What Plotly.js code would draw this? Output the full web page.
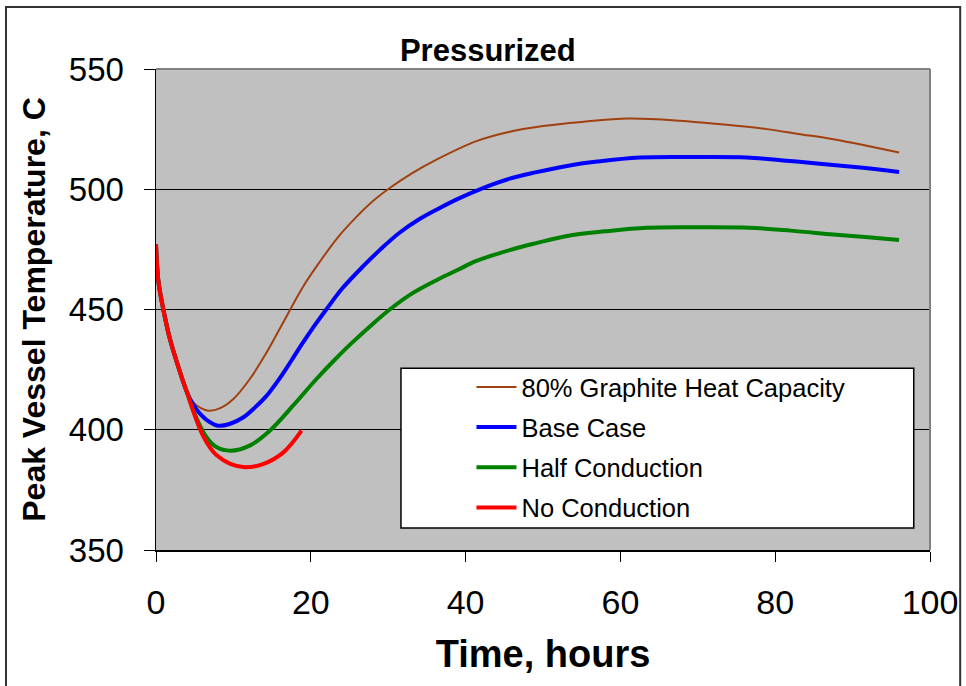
<!DOCTYPE html>
<html>
<head>
<meta charset="utf-8">
<script src="https://cdn.plot.ly/plotly-3.0.1.min.js"></script>
<style>html,body{margin:0;padding:0;background:#fff;}#chart{width:966px;height:686px;}</style>
</head>
<body>
<div id="chart"></div>
<script>
// Series names
var seriesNames = ["80% Graphite Heat Capacity", "Base Case", "Half Conduction", "No Conduction"];

// 80% Graphite Heat Capacity
var xGraphite = [0, 0.3, 0.95, 1.8, 3.1, 4, 4.8, 5.8, 6.8, 8.3, 10, 12.1, 14.3, 16.5, 19, 21.2, 23.5, 25.9, 28, 30.2, 33, 36.3, 41.4, 45.7, 50, 55, 61, 67.7, 73, 78.9, 83, 87.5, 92, 96];
var yGraphite = [477, 462, 450, 437.7, 424, 415.6, 411.4, 409, 407.9, 409, 412.8, 421, 432.2, 445, 459.5, 470, 480, 488.5, 495, 500.5, 506.5, 512.4, 520, 523.9, 526.3, 528, 529.4, 528.5, 527, 525, 523, 520.8, 518, 515.3];

// Base Case
var xBase = [0, 0.3, 0.95, 1.8, 3.1, 4, 4.8, 5.7, 6.8, 8, 9.5, 11.3, 12.8, 14.3, 16, 17.5, 19, 20.5, 22, 24, 26.8, 29, 31.5, 34, 36.3, 39, 42, 45.7, 49, 53.1, 57, 62.5, 70, 76.3, 81, 85.4, 91, 96];
var yBase = [477, 462, 450, 437.7, 424, 415.6, 410.5, 406.6, 403.5, 401.7, 402.4, 405.2, 409.3, 414.2, 421.5, 428.8, 436.3, 443.4, 450, 458.5, 468.1, 475, 482, 487.5, 491.6, 496, 500.2, 504.4, 507, 509.7, 511.5, 513.2, 513.4, 513.2, 512, 510.7, 509, 507.2];

// Half Conduction
var xHalf = [0, 0.3, 0.95, 1.8, 3.1, 4, 5, 6.5, 7.8, 9.6, 12.1, 14.7, 17.7, 20.7, 23, 25.1, 28, 30.2, 33, 36.3, 39, 41.4, 45.7, 49, 53.1, 58, 63.4, 70, 76.6, 82, 87.5, 92, 96];
var yHalf = [477, 462, 450, 437.7, 424, 415.6, 406.5, 397, 392.8, 391.3, 393.4, 399.6, 410, 421, 428.8, 435.5, 444, 450, 456.5, 462.3, 466.5, 470.2, 474.7, 477.5, 480.6, 482.5, 484, 484.2, 484, 482.8, 481.2, 480, 478.9];

// No Conduction
var xNone = [0, 0.3, 0.95, 1.8, 3.1, 4, 5, 6, 7, 7.8, 9.6, 11.5, 13.9, 16.5, 18.8];
var yNone = [477, 462, 450, 437.7, 424, 415.6, 406, 398, 392.5, 389.5, 385.8, 384.4, 385.8, 390.7, 399.6];

// Axis ticks
var xTicks = [0, 20, 40, 60, 80, 100];
var yTicks = [350, 400, 450, 500, 550];

var FONT = "Liberation Sans, Arial, sans-serif";

var traces = [
  {x: xGraphite, y: yGraphite, name: seriesNames[0], legendgroup: "a", mode: "lines",
   line: {color: "#A0400F", width: 2, shape: "spline", smoothing: 1}},
  {x: xBase, y: yBase, name: seriesNames[1], legendgroup: "b", mode: "lines",
   line: {color: "#0000FF", width: 4, shape: "spline", smoothing: 1}},
  {x: xHalf, y: yHalf, name: seriesNames[2], legendgroup: "c", mode: "lines",
   line: {color: "#008000", width: 4, shape: "spline", smoothing: 1}},
  {x: xNone, y: yNone, name: seriesNames[3], legendgroup: "d", mode: "lines",
   line: {color: "#FF0000", width: 4, shape: "spline", smoothing: 1}}
];

var layout = {
  width: 966, height: 686,
  margin: {l: 156, r: 36, t: 69, b: 136},
  paper_bgcolor: "#FFFFFF",
  plot_bgcolor: "#C0C0C0",
  font: {family: FONT, color: "#000"},
  title: {text: "<b>Pressurized</b>", font: {family: FONT, size: 31, color: "#000"},
          x: 0.505, xref: "container", xanchor: "center", y: 0.927, yref: "container", yanchor: "middle"},
  xaxis: {
    range: [0, 100], tickvals: xTicks, ticktext: xTicks.map(String),
    showgrid: false, zeroline: false, showline: true, linecolor: "#000", linewidth: 1.5,
    ticks: "outside", ticklen: 10, tickcolor: "#000", tickwidth: 1,
    tickfont: {family: FONT, size: 34, color: "#000"}, ticklabelstandoff: 12,
    title: {text: "<b>Time, hours</b>", font: {family: FONT, size: 38, color: "#000"}, standoff: 20}
  },
  yaxis: {
    range: [350, 550], tickvals: yTicks, ticktext: yTicks.map(String),
    showgrid: true, gridcolor: "#000", gridwidth: 1, zeroline: false,
    showline: true, linecolor: "#000", linewidth: 1.5,
    ticks: "outside", ticklen: 11, tickcolor: "#000", tickwidth: 1,
    tickfont: {family: FONT, size: 33, color: "#000"}, ticklabelstandoff: 13,
    title: {text: "<b>Peak Vessel Temperature, C</b>", font: {family: FONT, size: 32, color: "#000"}, standoff: 13}
  },
  showlegend: true,
  legend: {
    x: 0.4076, xanchor: "left", y: 0.387, yanchor: "top",
    bgcolor: "rgba(0,0,0,0)", borderwidth: 0,
    font: {family: FONT, size: 25.5, color: "#000"},
    traceorder: "grouped", tracegroupgap: 4, itemwidth: 40
  },
  shapes: [
    // legend box
    {type: "rect", xref: "paper", yref: "paper", x0: 0.3165, x1: 0.979, y0: 0.0457, y1: 0.378,
     fillcolor: "#FFFFFF", line: {color: "#000", width: 1.5}, layer: "above"},
    // plot area top and right borders
    {type: "line", xref: "paper", yref: "paper", x0: 0, x1: 1, y0: 1, y1: 1, line: {color: "#808080", width: 2}},
    {type: "line", xref: "paper", yref: "paper", x0: 1, x1: 1, y0: 0, y1: 1, line: {color: "#808080", width: 2}},
    // chart border
    {type: "rect", xref: "paper", yref: "paper", x0: -0.1938, x1: 1.039, y0: -0.30, y1: 1.129,
     fillcolor: "rgba(0,0,0,0)", line: {color: "#333", width: 2}}
  ]
};

Plotly.newPlot("chart", traces, layout, {displayModeBar: false, staticPlot: true});
</script>
</body>
</html>
